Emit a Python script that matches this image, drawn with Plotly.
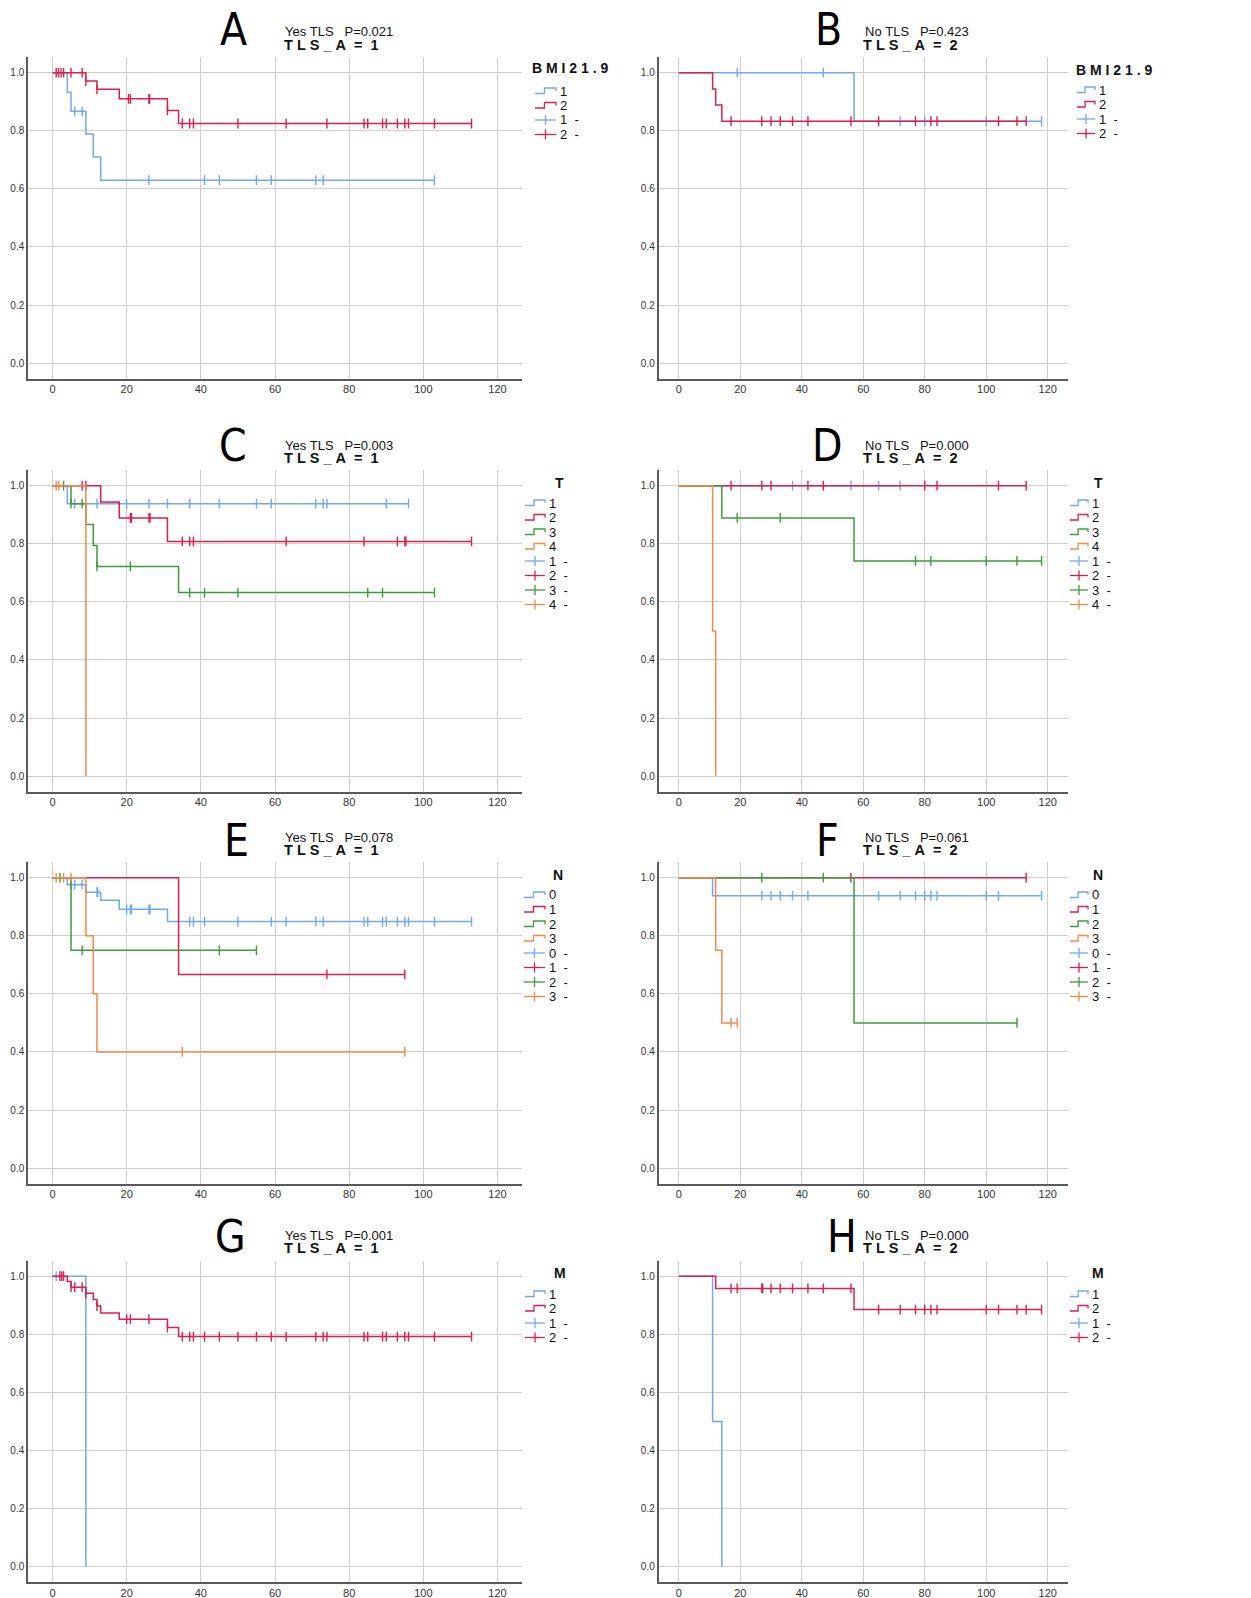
import plotly.graph_objects as go

W, H = 1251, 1598

BLUE = "#74a7ec"
RED = "#d9204f"
GREEN = "#3f9a3f"
ORANGE = "#f4894c"

# ---------------- data (time in months, KM survival) ----------------
# Panel A : Yes TLS, BMI21.9
A1_times = [0, 4, 5, 9, 11, 13]
A1_surv = [1.0, 0.933, 0.867, 0.789, 0.710, 0.630]
A1_cens = [6, 8, 26, 41, 45, 55, 59, 71, 73, 103]
A2_times = [0, 9, 12, 18, 31, 34]
A2_surv = [1.0, 0.971, 0.943, 0.910, 0.870, 0.825]
A2_cens = [1, 1.6, 2.3, 3, 5, 8, 9, 12, 20.5, 21, 26, 26.2, 31, 35, 37, 38, 50, 63, 74,
           84, 85, 89, 90, 93, 95, 96, 103, 113]

# Panel B : No TLS, BMI21.9
B1_times = [0, 57]
B1_surv = [1.0, 0.833]
B1_cens = [19, 47, 72, 80, 100, 118]
B2_times = [0, 11, 12, 14]
B2_surv = [1.0, 0.944, 0.889, 0.833]
B2_cens = [17, 27, 30, 33, 37, 42, 56, 65, 77, 82, 84, 104, 110, 113]

# Panel C : Yes TLS, T
C1_times = [0, 4]
C1_surv = [1.0, 0.938]
C1_cens = [6, 12, 20, 26, 31, 37, 45, 55, 59, 71, 73, 74, 90, 96]
C2_times = [0, 13, 18, 31]
C2_surv = [1.0, 0.944, 0.889, 0.808]
C2_cens = [8, 9, 21, 21.3, 26, 26.3, 35, 37, 38, 63, 84, 93, 95, 95.3, 113]
C3_times = [0, 5, 9, 11, 12, 34]
C3_surv = [1.0, 0.938, 0.866, 0.794, 0.722, 0.632]
C3_cens = [3, 5, 8, 12, 21, 37, 41, 50, 85, 89, 103]
C4_times = [0, 9]
C4_surv = [1.0, 0.0]
C4_cens = [1, 1.7]

# Panel D : No TLS, T
D1_times = [0]
D1_surv = [1.0]
D1_cens = [37, 56, 65, 72]
D2_times = [0]
D2_surv = [1.0]
D2_cens = [17, 27, 30, 42, 47, 80, 84, 104, 113]
D3_times = [0, 14, 57]
D3_surv = [1.0, 0.889, 0.741]
D3_cens = [19, 33, 77, 82, 100, 110, 118]
D4_times = [0, 11, 12]
D4_surv = [1.0, 0.5, 0.0]
D4_cens = []

# Panel E : Yes TLS, N
E0_times = [0, 4, 9, 13, 18, 31]
E0_surv = [1.0, 0.976, 0.950, 0.922, 0.891, 0.849]
E0_cens = [5, 6, 8, 12, 12.2, 20, 21, 21.3, 26, 26.3, 37, 38, 41, 50, 59, 63, 71, 73,
           84, 85, 89, 90, 93, 95, 96, 103, 113]
E1_times = [0, 34]
E1_surv = [1.0, 0.667]
E1_cens = [74, 95]
E2_times = [0, 5]
E2_surv = [1.0, 0.75]
E2_cens = [2, 8, 45, 55]
E3_times = [0, 9, 11, 12]
E3_surv = [1.0, 0.8, 0.6, 0.4]
E3_cens = [1, 3, 5, 35, 95]

# Panel F : No TLS, N
F0_times = [0, 11]
F0_surv = [1.0, 0.938]
F0_cens = [27, 30, 33, 37, 42, 65, 72, 77, 80, 82, 84, 100, 104, 118]
F1_times = [0]
F1_surv = [1.0]
F1_cens = [56, 113]
F2_times = [0, 57]
F2_surv = [1.0, 0.5]
F2_cens = [27, 47, 110]
F3_times = [0, 12, 14]
F3_surv = [1.0, 0.75, 0.5]
F3_cens = [17, 19]

# Panel G : Yes TLS, M
G1_times = [0, 9]
G1_surv = [1.0, 0.0]
G1_cens = [1]
G2_times = [0, 4, 5, 9, 11, 12, 13, 18, 31, 34]
G2_surv = [1.0, 0.982, 0.962, 0.941, 0.920, 0.897, 0.873, 0.852, 0.823, 0.792]
G2_cens = [2, 2.5, 3, 5, 6, 8, 9, 12, 20, 21, 26, 31, 35, 37, 38, 41, 45, 50, 55, 59, 63,
           71, 73, 74, 84, 85, 89, 90, 93, 95, 96, 103, 113]

# Panel H : No TLS, M
H1_times = [0, 11, 14]
H1_surv = [1.0, 0.5, 0.0]
H1_cens = []
H2_times = [0, 12, 57]
H2_surv = [1.0, 0.958, 0.885]
H2_cens = [17, 19, 27, 27.3, 30, 33, 37, 42, 47, 56, 65, 72, 77, 80, 82, 84, 100, 104,
           110, 113, 118]

# panel texts
letters = ["A", "B", "C", "D", "E", "F", "G", "H"]
subtitles = ["Yes TLS   P=0.021", "No TLS   P=0.423", "Yes TLS   P=0.003", "No TLS   P=0.000",
             "Yes TLS   P=0.078", "No TLS   P=0.061", "Yes TLS   P=0.001", "No TLS   P=0.000"]
strata = ["T L S _ A  =  1", "T L S _ A  =  2"] * 4
legend_titles = ["B M I 2 1 . 9", "B M I 2 1 . 9", "T", "T", "N", "N", "M", "M"]
legend_labels = [["1", "2"], ["1", "2"], ["1", "2", "3", "4"], ["1", "2", "3", "4"],
                 ["0", "1", "2", "3"], ["0", "1", "2", "3"], ["1", "2"], ["1", "2"]]
x_ticks = [0, 20, 40, 60, 80, 100, 120]
y_ticks = [0.0, 0.2, 0.4, 0.6, 0.8, 1.0]

panels = [
    [(A1_times, A1_surv, A1_cens, BLUE), (A2_times, A2_surv, A2_cens, RED)],
    [(B1_times, B1_surv, B1_cens, BLUE), (B2_times, B2_surv, B2_cens, RED)],
    [(C1_times, C1_surv, C1_cens, BLUE), (C2_times, C2_surv, C2_cens, RED),
     (C3_times, C3_surv, C3_cens, GREEN), (C4_times, C4_surv, C4_cens, ORANGE)],
    [(D1_times, D1_surv, D1_cens, BLUE), (D2_times, D2_surv, D2_cens, RED),
     (D3_times, D3_surv, D3_cens, GREEN), (D4_times, D4_surv, D4_cens, ORANGE)],
    [(E0_times, E0_surv, E0_cens, BLUE), (E1_times, E1_surv, E1_cens, RED),
     (E2_times, E2_surv, E2_cens, GREEN), (E3_times, E3_surv, E3_cens, ORANGE)],
    [(F0_times, F0_surv, F0_cens, BLUE), (F1_times, F1_surv, F1_cens, RED),
     (F2_times, F2_surv, F2_cens, GREEN), (F3_times, F3_surv, F3_cens, ORANGE)],
    [(G1_times, G1_surv, G1_cens, BLUE), (G2_times, G2_surv, G2_cens, RED)],
    [(H1_times, H1_surv, H1_cens, BLUE), (H2_times, H2_surv, H2_cens, RED)],
]
COLORS = [BLUE, RED, GREEN, ORANGE]

# ---------------- layout geometry (pixels) ----------------
def px(x):
    return x / W

def py(y):
    return 1 - y / H

col_x = [(28, 522), (658.5, 1068)]
row_top = [57, 470, 862, 1260.5]
ROW_H = 321.5
letter_x = [233, 828, 233, 827, 237, 827, 230, 842]
letter_dy = [-28, -28, -24, -24, -22, -22, -24, -24]
sub1_x = [339, 917]
sub2_x = [331, 911]
leg_glyph_x = [(535, 556), (1077, 1095), (525, 545), (1070, 1088),
               (524, 545), (1070, 1088), (525, 545), (1070, 1088)]
leg_title_pos = [(530, 68, "left"), (1074, 70, "left"), (559, 483, "center"), (1098, 483, "center"),
                 (558, 875, "center"), (1098, 875, "center"), (560, 1273, "center"),
                 (1098, 1273, "center")]
leg_first_y = [91, 90, 503, 503, 895, 895, 1294, 1294]
LEG_STEP = 14.5

FONT = "Liberation Sans, Arial, sans-serif"
NARROW = "Liberation Sans Narrow, DejaVu Sans Condensed, Arial Narrow, sans-serif"

fig = go.Figure()
shapes = []
annotations = []


def surv_at(times, surv, t):
    s = surv[0]
    for ti, si in zip(times, surv):
        if ti <= t:
            s = si
    return s


for i, groups in enumerate(panels):
    r, c = divmod(i, 2)
    ax = "" if i == 0 else str(i + 1)
    xa, ya = "x" + ax, "y" + ax
    x0p, x1p = col_x[c]
    top = row_top[r]
    fig.layout["xaxis" + ax] = dict(
        domain=[px(x0p), px(x1p)], range=[-6.6, 126.6], anchor=ya,
        tickvals=x_ticks, showgrid=True, gridcolor="#cfcfcf", gridwidth=1,
        showline=True, linecolor="#5a5a5a", linewidth=1.5, zeroline=False,
        ticks="", tickfont=dict(family=FONT, size=11, color="#333"), fixedrange=True)
    fig.layout["yaxis" + ax] = dict(
        domain=[py(top + ROW_H), py(top)], range=[-0.053, 1.054], anchor=xa,
        tickvals=y_ticks, tickformat=".1f", showgrid=True, gridcolor="#cfcfcf", gridwidth=1,
        showline=True, linecolor="#5a5a5a", linewidth=1.5, zeroline=False,
        ticks="", tickfont=dict(family=FONT, size=10, color="#333"), fixedrange=True)

    for times, surv, cens, color in groups:
        end = max(list(cens) + [times[-1]])
        fig.add_trace(go.Scatter(
            x=list(times) + [end], y=list(surv) + [surv[-1]], xaxis=xa, yaxis=ya,
            mode="lines", line=dict(color=color, width=1.5, shape="hv"),
            showlegend=False, hoverinfo="skip"))
        if cens:
            fig.add_trace(go.Scatter(
                x=cens, y=[surv_at(times, surv, t) for t in cens], xaxis=xa, yaxis=ya,
                mode="markers",
                marker=dict(symbol="line-ns-open", size=7, color=color,
                            line=dict(color=color, width=1.4)),
                showlegend=False, hoverinfo="skip"))

    # titles
    annotations.append(dict(x=px(letter_x[i]), y=py(top + letter_dy[i]), xref="paper", yref="paper",
                            text=letters[i], showarrow=False, xanchor="center", yanchor="middle",
                            font=dict(family=NARROW, size=44, color="#000")))
    annotations.append(dict(x=px(sub1_x[c]), y=py(top - 25), xref="paper", yref="paper",
                            text=subtitles[i].replace(" ", "\u00a0"), showarrow=False,
                            xanchor="center", yanchor="middle",
                            font=dict(family=FONT, size=13, color="#111")))
    annotations.append(dict(x=px(sub2_x[c]), y=py(top - 12.5), xref="paper", yref="paper",
                            text="<b>" + strata[i].replace(" ", "\u00a0") + "</b>", showarrow=False,
                            xanchor="center", yanchor="middle",
                            font=dict(family=FONT, size=14.5, color="#111")))

    # legend
    tx, ty, anch = leg_title_pos[i]
    annotations.append(dict(x=px(tx), y=py(ty), xref="paper", yref="paper",
                            text="<b>" + legend_titles[i].replace(" ", "\u00a0") + "</b>",
                            showarrow=False, xanchor=anch, yanchor="middle",
                            font=dict(family=FONT, size=14, color="#111")))
    gx0, gx1 = leg_glyph_x[i]
    labels = legend_labels[i]
    n = len(labels)
    for k, lab in enumerate(labels):
        col = COLORS[k]
        yk = leg_first_y[i] + k * LEG_STEP
        yl, yh = yk + 2.5, yk - 3
        xm = gx0 + (gx1 - gx0) * 0.45
        path = "M %f,%f L %f,%f L %f,%f L %f,%f L %f,%f" % (
            px(gx0), py(yl), px(xm), py(yl), px(xm), py(yh), px(gx1), py(yh), px(gx1), py(yh + 3))
        shapes.append(dict(type="path", xref="paper", yref="paper", path=path,
                           line=dict(color=col, width=1.3)))
        annotations.append(dict(x=px(gx1 + 2), y=py(yk), xref="paper", yref="paper",
                                text=lab, showarrow=False, xanchor="left", yanchor="middle",
                                font=dict(family=FONT, size=13, color="#111")))
        yc = leg_first_y[i] + (k + n) * LEG_STEP
        xc = (gx0 + gx1) / 2
        shapes.append(dict(type="line", xref="paper", yref="paper", x0=px(gx0), x1=px(gx1),
                           y0=py(yc), y1=py(yc), line=dict(color=col, width=1.3)))
        shapes.append(dict(type="line", xref="paper", yref="paper", x0=px(xc), x1=px(xc),
                           y0=py(yc - 5), y1=py(yc + 5), line=dict(color=col, width=1.3)))
        annotations.append(dict(x=px(gx1 + 2), y=py(yc), xref="paper", yref="paper",
                                text=(lab + "  -").replace(" ", "\u00a0"), showarrow=False,
                                xanchor="left", yanchor="middle",
                                font=dict(family=FONT, size=13, color="#111")))

fig.update_layout(width=W, height=H, margin=dict(l=0, r=0, t=0, b=0),
                  paper_bgcolor="white", plot_bgcolor="white",
                  shapes=shapes, annotations=annotations, showlegend=False)

fig.write_html("out.html", config={"displayModeBar": False},
               post_script="document.body.style.margin='0';document.body.style.overflow='hidden';")
